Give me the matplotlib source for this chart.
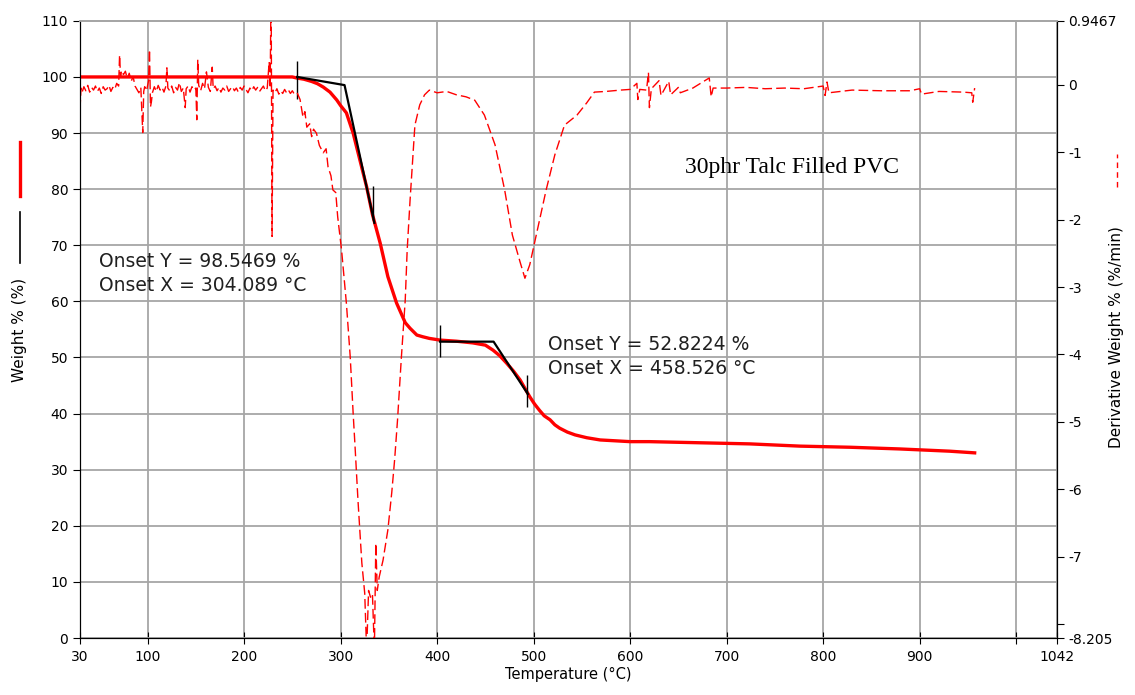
import matplotlib.pyplot as plt
from matplotlib.lines import Line2D

# weight curve (left axis)
weight_T = [30, 100, 200, 250, 255, 262, 270, 276, 282, 289, 296, 300, 306, 313, 320, 327, 333, 341, 349, 358,
            367, 372, 379, 385, 392, 403, 420, 437, 450, 458, 465, 472, 479, 486, 491, 496, 501, 506, 511, 517,
            522, 527, 535, 543, 555, 569, 600, 620, 672, 724, 776, 828, 879, 931, 957]
weight_W = [100, 100, 100, 100, 99.8, 99.6, 99.2, 98.8, 98.2, 97.3, 95.9, 94.9, 93.6, 90.0, 85.2, 80.4, 75.5, 70.4, 64.4, 59.7,
            56.2, 55.2, 54.0, 53.7, 53.4, 53.1, 52.9, 52.6, 52.2, 51.3, 50.3, 49.0, 47.6, 46.0, 44.5, 43.0, 41.7, 40.6, 39.6, 38.9,
            38.0, 37.4, 36.7, 36.2, 35.7, 35.3, 35.0, 35.0, 34.8, 34.6, 34.2, 34.0, 33.7, 33.3, 33.0]

# derivative curve (right axis) in pieces
deriv_T_flat = [30, 31, 32, 34, 36, 38, 40, 42, 44, 46,
                48, 50, 52, 54, 56, 58, 60, 62, 64, 66,
                68, 70, 71, 72, 73, 75, 77, 79, 81, 83,
                85, 87, 89, 91, 93, 95, 96, 97, 99, 101,
                102, 103, 104, 105, 107, 109, 111, 113, 115, 117,
                119, 120, 121, 123, 125, 127, 129, 131, 133, 135,
                137, 139, 140, 142, 144, 146, 148, 150, 151, 152,
                153, 155, 157, 159, 161, 163, 165, 167, 168, 170,
                172, 174, 176, 178, 180, 182, 184, 186, 188, 190,
                192, 194, 196, 198, 200, 202, 204, 206, 208, 210,
                212, 214, 216, 218, 220, 222, 224, 226, 227, 228,
                229, 230, 232, 234, 236, 238, 240, 242, 244, 246,
                248, 250, 252, 255]
deriv_D_flat = [-0.37, -0.05, -0.12, -0.03, -0.09, -0.01, -0.11, -0.04, -0.08, -0.02,
                -0.10, -0.05, -0.13, -0.03, -0.08, -0.06, -0.01, -0.10, -0.04, -0.07,
                0.02, -0.02, 0.44, 0.12, 0.21, 0.15, 0.20, 0.09, 0.17, 0.05,
                0.12, -0.02, -0.07, -0.12, -0.04, -0.71, -0.10, -0.03, -0.09, 0.06,
                0.52, -0.33, -0.25, -0.12, -0.03, -0.10, -0.01, -0.08, -0.04, -0.11,
                -0.02, 0.25, -0.05, -0.09, -0.02, -0.12, -0.04, -0.08, 0.03, -0.10,
                -0.05, -0.34, -0.06, -0.02, -0.11, -0.03, -0.08, -0.05, -0.52, 0.37,
                -0.01, -0.09, 0.02, -0.06, 0.19, -0.04, -0.10, 0.26, -0.06, -0.02,
                -0.09, -0.04, -0.11, -0.05, -0.08, -0.02, -0.10, -0.06, -0.03, -0.09,
                -0.05, -0.11, -0.04, -0.08, -0.02, -0.07, -0.12, -0.05, -0.09, -0.03,
                -0.08, -0.04, -0.10, -0.06, -0.02, -0.09, -0.05, 0.34, -0.05, 1.5,
                -2.25, -0.08, -0.12, -0.06, -0.14, -0.09, -0.13, -0.07, -0.12, -0.08,
                -0.13, -0.09, -0.14, -0.12]

deriv_T_peak1 = [258, 261, 263, 265, 268, 270, 272, 275, 278, 282,
                 285, 287, 290, 292, 295, 297, 301, 306, 310, 313,
                 315, 318, 322, 325, 327, 329, 331, 333, 335, 336.5,
                 338, 340, 344, 349, 353, 356, 359, 363, 367, 369,
                 372, 377, 382, 387, 392, 400]
deriv_D_peak1 = [-0.22, -0.48, -0.40, -0.63, -0.58, -0.77, -0.66, -0.72, -0.90, -1.01,
                 -0.95, -1.22, -1.35, -1.56, -1.60, -1.96, -2.45, -3.24, -4.04, -4.87,
                 -5.37, -6.16, -7.09, -7.54, -8.4, -7.5, -7.6, -7.55, -8.4, -6.8,
                 -7.5, -7.3, -7.05, -6.6, -6.05, -5.56, -4.97, -4.04, -3.19, -2.45,
                 -1.71, -0.60, -0.30, -0.15, -0.08, -0.12]

deriv_T_peak2 = [410, 420, 430, 439, 449, 460, 470, 478, 486, 491,
                 496, 504, 513, 522, 532]
deriv_D_peak2 = [-0.10, -0.15, -0.18, -0.23, -0.45, -0.89, -1.56, -2.23, -2.63, -2.87,
                 -2.67, -2.15, -1.56, -1.04, -0.60]

deriv_T_tail = [545, 555, 563, 575, 590, 600, 607, 608, 610, 617,
                619, 620, 622, 630, 632, 640, 642, 650, 652, 665,
                682, 684, 686, 700, 720, 740, 760, 780, 800, 802,
                804, 806, 830, 860, 890, 900, 902, 920, 945, 954,
                955, 957]
deriv_D_tail = [-0.45, -0.27, -0.11, -0.10, -0.08, -0.07, 0.02, -0.22, -0.07, -0.08,
                0.18, -0.34, -0.06, 0.06, -0.16, 0.05, -0.15, -0.04, -0.12, -0.05,
                0.10, -0.18, -0.05, -0.05, -0.04, -0.06, -0.05, -0.06, -0.02, -0.16,
                0.04, -0.12, -0.08, -0.09, -0.09, -0.06, -0.14, -0.10, -0.11, -0.12,
                -0.26, -0.05]

deriv_T = deriv_T_flat + deriv_T_peak1 + deriv_T_peak2 + deriv_T_tail
deriv_D = deriv_D_flat + deriv_D_peak1 + deriv_D_peak2 + deriv_D_tail

# onset tangent constructions
onset1_T = [255, 304.089, 335]
onset1_W = [100.0, 98.5469, 74.0]
onset1_marks = [(255, 96.0, 102.8), (333.5, 74.5, 80.5)]
onset2_T = [403, 458.526, 494]
onset2_W = [52.8224, 52.8224, 43.5]
onset2_marks = [(403, 50.1, 55.8), (493, 41.2, 46.9)]

x_ticks = [30, 100, 200, 300, 400, 500, 600, 700, 800, 900, 1000, 1042]
x_labels = ["30", "100", "200", "300", "400", "500", "600", "700", "800", "900", "", "1042"]
left_ticks = list(range(0, 111, 10))
right_ticks = [-8.205, -8, -7, -6, -5, -4, -3, -2, -1, 0, 0.9467]
right_labels = ["-8.205", "", "-7", "-6", "-5", "-4", "-3", "-2", "-1", "0", "0.9467"]

RED = "#ff0000"
GRID = "#a6a6a6"

fig = plt.figure(figsize=(11.35, 6.95), dpi=100)
ax = fig.add_axes([0.0705, 0.082, 0.8605, 0.888])
ax2 = ax.twinx()

ax.set_xlim(30, 1042)
ax.set_ylim(0, 110)
ax2.set_ylim(-8.205, 0.9467)

ax.set_xticks(x_ticks)
ax.set_xticklabels(x_labels)
ax.set_yticks(left_ticks)
ax2.set_yticks(right_ticks)
ax2.set_yticklabels(right_labels)

ax.grid(True, color=GRID, linewidth=1.3)
ax.set_axisbelow(True)
ax.tick_params(axis="x", direction="inout", length=9, labelsize=10, pad=4)
ax.tick_params(axis="y", direction="out", length=5, labelsize=10)
ax2.tick_params(axis="y", direction="out", length=5, labelsize=10)
for a in (ax, ax2):
    a.spines["top"].set_color(GRID)
    a.spines["top"].set_linewidth(1.3)

# weight and derivative
ax.plot(weight_T, weight_W, color=RED, linewidth=2.4, zorder=3)
ax2.plot(deriv_T, deriv_D, color=RED, linewidth=1.0, dashes=(7, 3))

ax.plot(onset1_T, onset1_W, color="black", linewidth=1.6, zorder=4)
ax.plot(onset2_T, onset2_W, color="black", linewidth=1.6, zorder=4)
for t, lo, hi in onset1_marks + onset2_marks:
    ax.vlines(t, lo, hi, color="black", linewidth=1.0, zorder=4)

ax.text(49.7, 65.0, "Onset Y = 98.5469 %\nOnset X = 304.089 °C", fontsize=13.5,
        ha="left", va="center", linespacing=1.35, color="#202020")
ax.text(514.8, 50.2, "Onset Y = 52.8224 %\nOnset X = 458.526 °C", fontsize=13.5,
        ha="left", va="center", linespacing=1.35, color="#202020")
ax.text(656.7, 83.8, "30phr Talc Filled PVC", fontsize=17, family="Liberation Serif",
        ha="left", va="center")

ax.set_xlabel("Temperature (°C)", fontsize=10.5, labelpad=2)

# axis titles with line samples
fig.text(0.0176, 0.525, "Weight % (%)", rotation=90, ha="center", va="center", fontsize=11)
fig.add_artist(Line2D([0.0176, 0.0176], [0.718, 0.7957], color=RED, linewidth=2.4))
fig.add_artist(Line2D([0.0176, 0.0176], [0.6216, 0.695], color="black", linewidth=1.2))
fig.text(0.984, 0.515, "Derivative Weight % (%/min)", rotation=90, ha="center", va="center", fontsize=11)
fig.add_artist(Line2D([0.984, 0.984], [0.731, 0.778], color=RED, linewidth=1.0, dashes=(4, 3)))

plt.savefig("out.png", dpi=100)
